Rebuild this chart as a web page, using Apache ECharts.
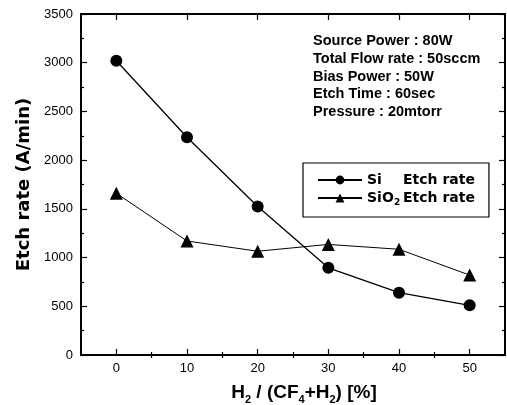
<!DOCTYPE html>
<html>
<head>
<meta charset="utf-8">
<script src="https://cdn.jsdelivr.net/npm/echarts@6/dist/echarts.min.js"></script>
<style>
  html, body { margin: 0; padding: 0; background: #fff; }
  #chart { width: 507px; height: 405px; }
</style>
</head>
<body>
<div id="chart"></div>
<script>
  // H2 / (CF4+H2) [%]
  const h2Ratio = [0, 10, 20, 30, 40, 50]
  // etch rate (A/min)
  const siRate = [3020, 2235, 1525, 895, 640, 510]
  const sio2Rate = [1660, 1170, 1065, 1135, 1085, 820]
  const majorTicksX = [0, 10, 20, 30, 40, 50]
  const minorTicksX = [5, 15, 25, 35, 45]
  const conditions = [
    'Source Power : 80W',
    'Total Flow rate : 50sccm',
    'Bias Power : 50W',
    'Etch Time : 60sec',
    'Pressure : 20mtorr'
  ]

  const chart = echarts.init(document.getElementById('chart'))
  const font = 'Arial, "Liberation Sans", sans-serif'
  const wideFont = '"DejaVu Sans", sans-serif'
  const tickStyle = { color: '#000', width: 1.2 }

  // 四边都是向内的刻度
  const frameAxis = (extra) => Object.assign({
    type: 'value',
    axisLine: { show: true, onZero: false, lineStyle: { color: '#000', width: 2 } },
    axisTick: { show: true, inside: true, length: 6, lineStyle: tickStyle },
    axisLabel: { show: false },
    splitLine: { show: false }
  }, extra)

  const option = {
    animation: false,
    backgroundColor: '#fff',
    title: {
      text: conditions.join('\n'),
      left: 308,
      top: 27,
      textStyle: { fontFamily: font, fontSize: 14.5, fontWeight: 'bold', color: '#000', lineHeight: 17.8 }
    },
    legend: {
      left: 303,
      top: 163,
      orient: 'vertical',
      itemWidth: 44,
      itemHeight: 11,
      itemGap: 0,
      padding: [8, 14, 10, 14],
      borderColor: '#000',
      borderWidth: 1.2,
      data: ['Si', 'SiO2'],
      formatter: (name) => name === 'Si'
        ? '{a|Si}{b|Etch rate}'
        : '{c|SiO}{s|2}{b|Etch rate}',
      textStyle: {
        fontFamily: wideFont, fontSize: 14, fontWeight: 'bold', color: '#000', lineHeight: 18,
        rich: {
          a: { fontFamily: wideFont, fontSize: 14, fontWeight: 'bold', width: 36, lineHeight: 18 },
          c: { fontFamily: wideFont, fontSize: 14, fontWeight: 'bold', width: 27, lineHeight: 18 },
          s: { fontFamily: wideFont, fontSize: 9, fontWeight: 'bold', width: 9, lineHeight: 18, padding: [9, 0, 0, 0] },
          b: { fontFamily: wideFont, fontSize: 14, fontWeight: 'bold', lineHeight: 18 }
        }
      }
    },
    grid: { left: 81, right: 2, top: 14, bottom: 50, outerBoundsMode: 'none' },
    xAxis: [
      frameAxis({
        min: -5, max: 55,
        position: 'bottom',
        name: '{n|H}{s|2}{n| / (CF}{s|4}{n|+H}{s|2}{n|) [%]}',
        nameLocation: 'middle',
        nameGap: 26,
        nameTextStyle: {
          padding: [0, 0, 0, 22],
          rich: {
            n: { fontFamily: font, fontSize: 19, fontWeight: 'bold', color: '#000' },
            s: { fontFamily: font, fontSize: 11, fontWeight: 'bold', color: '#000', padding: [13, 0, 0, 0] }
          }
        },
        axisTick: { show: true, inside: true, length: 6, customValues: majorTicksX, lineStyle: tickStyle },
        axisLabel: { show: true, customValues: majorTicksX, margin: 7, fontFamily: font, fontSize: 13, color: '#000' }
      }),
      // 次刻度
      frameAxis({
        min: -5, max: 55, position: 'bottom',
        axisLine: { show: false },
        axisTick: { show: true, inside: true, length: 3, customValues: minorTicksX, lineStyle: tickStyle }
      }),
      frameAxis({
        min: -5, max: 55, position: 'top',
        axisTick: { show: true, inside: true, length: 6, customValues: majorTicksX, lineStyle: tickStyle }
      }),
      frameAxis({
        min: -5, max: 55, position: 'top',
        axisLine: { show: false },
        axisTick: { show: true, inside: true, length: 3, customValues: minorTicksX, lineStyle: tickStyle }
      })
    ],
    yAxis: [
      frameAxis({
        min: 0, max: 3500, interval: 500,
        position: 'left',
        name: 'Etch rate (A/min)',
        nameLocation: 'middle',
        nameGap: 38,
        nameRotate: 90,
        nameTextStyle: { fontFamily: wideFont, fontSize: 18, fontWeight: 'bold', color: '#000' },
        minorTick: { show: true, splitNumber: 2, length: 3, lineStyle: tickStyle },
        axisLabel: { show: true, margin: 8, fontFamily: font, fontSize: 13, color: '#000', formatter: (v) => String(v) }
      }),
      frameAxis({
        min: 0, max: 3500, interval: 500,
        position: 'right',
        minorTick: { show: true, splitNumber: 2, length: 3, lineStyle: tickStyle }
      })
    ],
    series: [
      {
        name: 'Si',
        type: 'line',
        data: h2Ratio.map((x, i) => [x, siRate[i]]),
        symbol: 'circle',
        symbolSize: 12,
        itemStyle: { color: '#000' },
        lineStyle: { color: '#000', width: 1.3 }
      },
      {
        name: 'SiO2',
        type: 'line',
        data: h2Ratio.map((x, i) => [x, sio2Rate[i]]),
        symbol: 'triangle',
        symbolSize: 13,
        itemStyle: { color: '#000' },
        lineStyle: { color: '#000', width: 1 }
      }
    ]
  }
  chart.setOption(option)
</script>
</body>
</html>
